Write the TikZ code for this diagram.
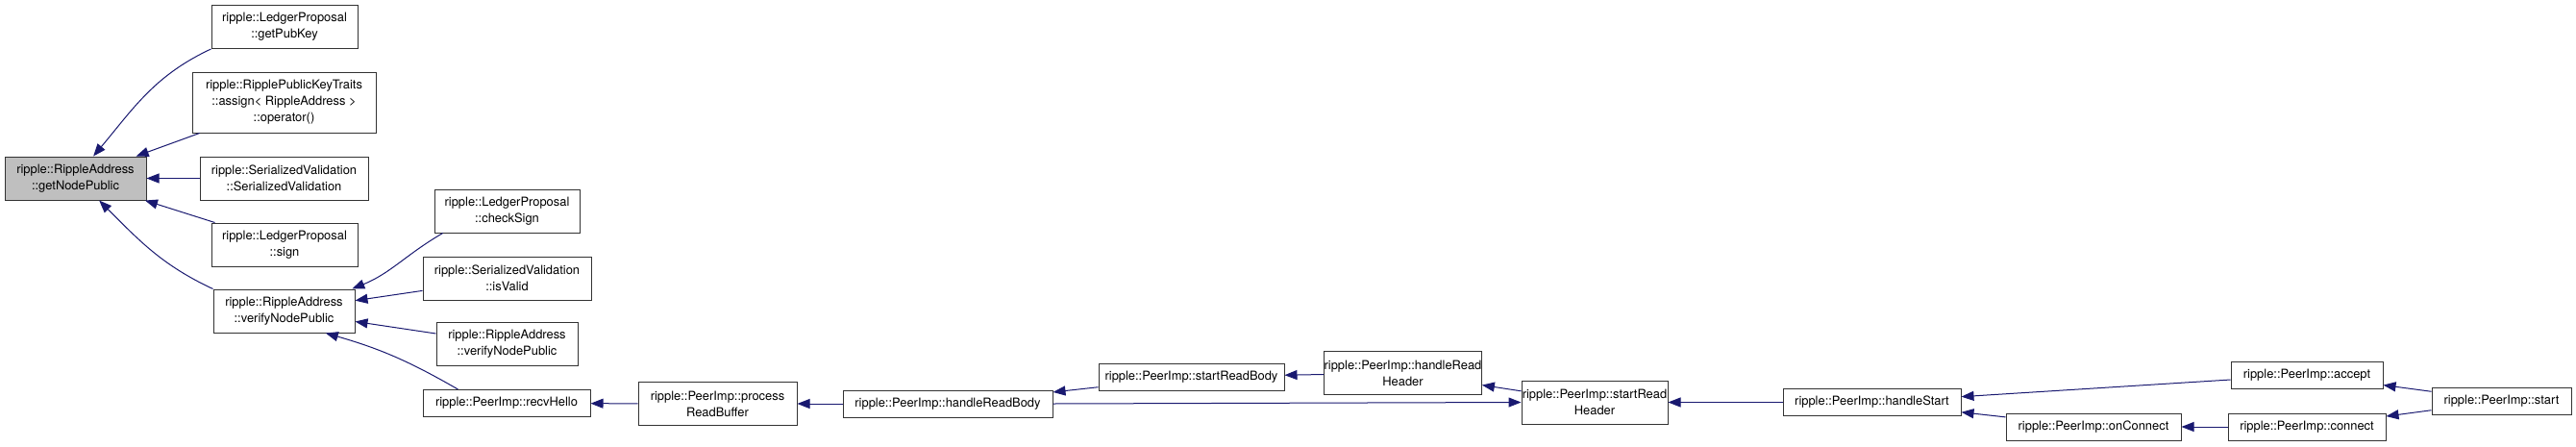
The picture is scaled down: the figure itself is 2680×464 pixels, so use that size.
\documentclass[tikz,border=0pt]{standalone}
\usepackage{fontspec}
\setmainfont{TeX Gyre Heros}
\usetikzlibrary{arrows.meta}
\definecolor{edgeblue}{RGB}{25,25,112}
\definecolor{focusgray}{RGB}{191,191,191}

\begin{document}
\begin{tikzpicture}[x=1pt,y=-1pt,
  fn/.style={draw=black!80,line width=1pt,fill=white,align=center,inner sep=0pt,
    font=\fontsize{12.9}{17}\selectfont},
  one/.style={minimum height=28pt},
  two/.style={minimum height=45pt},
  three/.style={minimum height=63pt},
  call/.style={edgeblue,line width=1pt,-{Triangle[length=13pt,width=10pt]}}]
\useasboundingbox (0,0) rectangle (2680,464);
% ================= focus =================
\node[fn,two,fill=focusgray,minimum width=147pt] (gnp) at (78.5,185.5) {ripple::RippleAddress\\::getNodePublic};
% ================= direct callers =================
\node[fn,two,minimum width=152pt] (gpk) at (296,28) {ripple::LedgerProposal\\::getPubKey};
\node[fn,three,minimum width=191pt] (assign) at (295.5,106.5) {ripple::RipplePublicKeyTraits\\::assign< RippleAddress >\\::operator()};
\node[fn,two,minimum width=175pt] (svctor) at (295.5,185.5) {ripple::SerializedValidation\\::SerializedValidation};
\node[fn,two,minimum width=152pt] (sign) at (296,254.5) {ripple::LedgerProposal\\::sign};
\node[fn,two,minimum width=147pt] (vnpA) at (295.5,323.5) {ripple::RippleAddress\\::verifyNodePublic};
% ================= callers of verifyNodePublic =================
\node[fn,two,minimum width=151pt] (chksign) at (527.5,219.5) {ripple::LedgerProposal\\::checkSign};
\node[fn,two,minimum width=175pt] (isvalid) at (527.5,289.5) {ripple::SerializedValidation\\::isValid};
\node[fn,two,minimum width=147pt] (vnpB) at (527.5,358) {ripple::RippleAddress\\::verifyNodePublic};
\node[fn,one,minimum width=174pt] (hello) at (527,419.5) {ripple::PeerImp::recvHello};
% ================= PeerImp chain =================
\node[fn,two,minimum width=165pt] (procrb) at (746.5,420) {ripple::PeerImp::process\\ReadBuffer};
\node[fn,one,minimum width=218pt] (hrb) at (986,420) {ripple::PeerImp::handleReadBody};
\node[fn,one,minimum width=193pt] (srb) at (1239.5,392) {ripple::PeerImp::startReadBody};
\node[fn,two,minimum width=163pt] (hrh) at (1459.5,388) {ripple::PeerImp::handleRead\\Header};
\node[fn,two,minimum width=152pt] (srh) at (1659,418.5) {ripple::PeerImp::startRead\\Header};
\node[fn,one,minimum width=185pt] (hstart) at (1947.5,418.5) {ripple::PeerImp::handleStart};
\node[fn,one,minimum width=182pt] (onconn) at (2178,444) {ripple::PeerImp::onConnect};
\node[fn,one,minimum width=158pt] (accept) at (2400,390) {ripple::PeerImp::accept};
\node[fn,one,minimum width=164pt] (conn) at (2400,444) {ripple::PeerImp::connect};
\node[fn,one,minimum width=145pt] (start) at (2602.5,417) {ripple::PeerImp::start};
% ================= calls =================
\draw[call] (gpk.south west) to[out=205,in=50] (gnp.51);
\draw[call] (assign) -- (gnp);
\draw[call] (svctor) -- (gnp);
\draw[call] (sign) -- (gnp);
\draw[call] (vnpA.north west) to[out=155,in=-45] (gnp.-43);
\draw[call] (chksign.199) to[out=210,in=22] (vnpA.18);
\draw[call] (isvalid) -- (vnpA);
\draw[call] (vnpB) -- (vnpA);
\draw[call] (hello.164) to[out=150,in=-16] (vnpA.-28);
\draw[call] (procrb) -- (hello);
\draw[call] (hrb) -- (procrb);
\draw[call] (srb) -- (hrb);
\draw[call] (hrb.east) -- (srh.west);
\draw[call] (hrh) -- (srb);
\draw[call] (srh) -- (hrh);
\draw[call] (hstart) -- (srh);
\draw[call] (accept) -- (hstart);
\draw[call] (onconn) -- (hstart);
\draw[call] (conn) -- (onconn);
\draw[call] (start) -- (accept);
\draw[call] (start) -- (conn);
\end{tikzpicture}
\end{document}
